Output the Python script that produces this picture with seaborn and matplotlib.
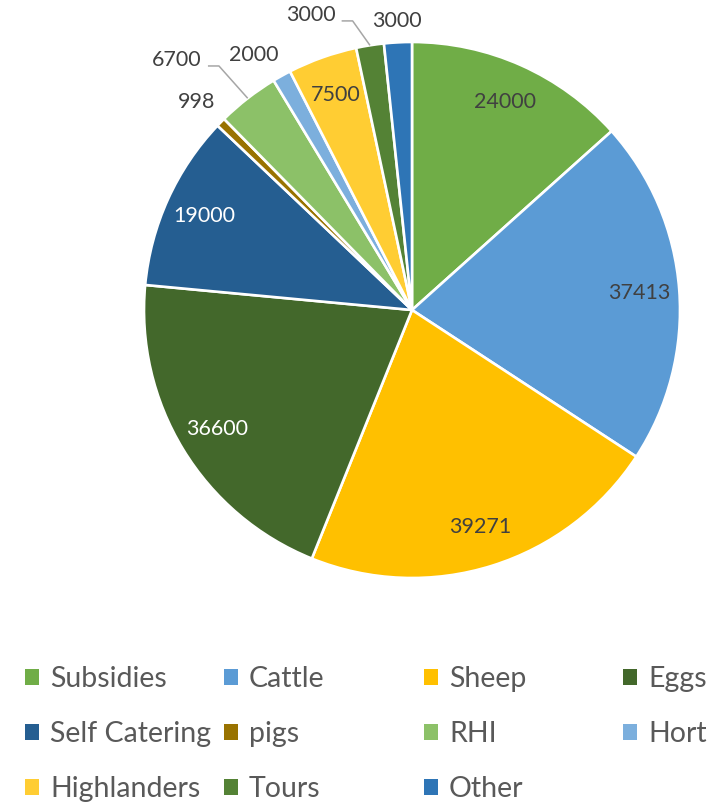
import matplotlib
matplotlib.use('Agg')
import matplotlib.pyplot as plt
import seaborn as sns
import numpy as np
from matplotlib.patches import Patch

# ---------------- data ----------------
categories = ['Subsidies', 'Cattle', 'Sheep', 'Eggs', 'Self Catering', 'pigs',
              'RHI', 'Hort', 'Highlanders', 'Tours', 'Other']
values = [24000, 37413, 39271, 36600, 19000, 998, 6700, 2000, 7500, 3000, 3000]
colors = ['#70AD47', '#5B9BD5', '#FFC000', '#43682B', '#255E91', '#997300',
          '#8CC168', '#7CAFDD', '#FFCD33', '#548235', '#2E75B6']

# ---------------- style ----------------
sns.set_style('white')
plt.rcParams['font.family'] = ['Lato', 'DejaVu Sans']
DARK = '#404040'

W, H = 716, 802
fig = plt.figure(figsize=(W / 100, H / 100), dpi=100)
cx, cy, R = 412, 310, 268
ax = fig.add_axes([(cx - R) / W, (H - cy - R) / H, 2 * R / W, 2 * R / H])

palette = sns.color_palette(colors)
wedges, _ = ax.pie(values, colors=palette, startangle=90, counterclock=False,
                   radius=1, wedgeprops=dict(edgecolor='white', linewidth=1.9))
ax.set_xlim(-1, 1)
ax.set_ylim(-1, 1)
ax.set_aspect('equal')
ax.axis('off')

# label layout: inside labels at fixed radius; outside ones (radius, angle shift in deg)
inside = {0: DARK, 1: DARK, 2: DARK, 3: 'white', 4: 'white', 8: DARK}
outside = {5: (1.116, 0.5), 6: (1.28, 5.4), 7: (1.119, 2.7), 9: (1.164, 9.9), 10: (1.08, 0.0)}
leader = {6, 9}
fs = 15.5

for i, w in enumerate(wedges):
    mid = np.deg2rad((w.theta1 + w.theta2) / 2)
    txt = f'{values[i]}'
    if i in inside:
        r = 0.85
        ax.text(r * np.cos(mid), r * np.sin(mid), txt, ha='center', va='center',
                color=inside[i], fontsize=fs)
    else:
        r, da = outside[i]
        ang = mid + np.deg2rad(da)
        tx, ty = r * np.cos(ang), r * np.sin(ang)
        t = ax.text(tx, ty, txt, ha='center', va='center', color=DARK,
                    fontsize=fs, clip_on=False)
        if i in leader:
            fig.canvas.draw()
            bb = t.get_window_extent().transformed(ax.transData.inverted())
            px = 1 / R
            x0 = bb.x1 + 6 * px
            y0 = ty - 6 * px
            x1 = x0 + 11 * px
            ax.plot([x0, x1, np.cos(mid)], [y0, y0, np.sin(mid)], color='#A6A6A6',
                    lw=1.1, clip_on=False, solid_capstyle='butt')

# ---------------- legend (row-wise grid, 4 columns) ----------------
ncol = 4
col_x = [25, 224, 424, 623]
row_y = [677, 732, 787]
for k, name in enumerate(categories):
    r_, c_ = divmod(k, ncol)
    fig.legend([Patch(facecolor=palette[k], edgecolor='none')], [name],
               loc='center left',
               bbox_to_anchor=(col_x[c_] / W, 1 - (row_y[r_] + 2) / H),
               frameon=False, fontsize=20.5, handlelength=0.5, handleheight=0.5,
               handletextpad=0.38, borderpad=0, borderaxespad=0,
               labelcolor='#595959')

fig.savefig('out.png', dpi=100)
